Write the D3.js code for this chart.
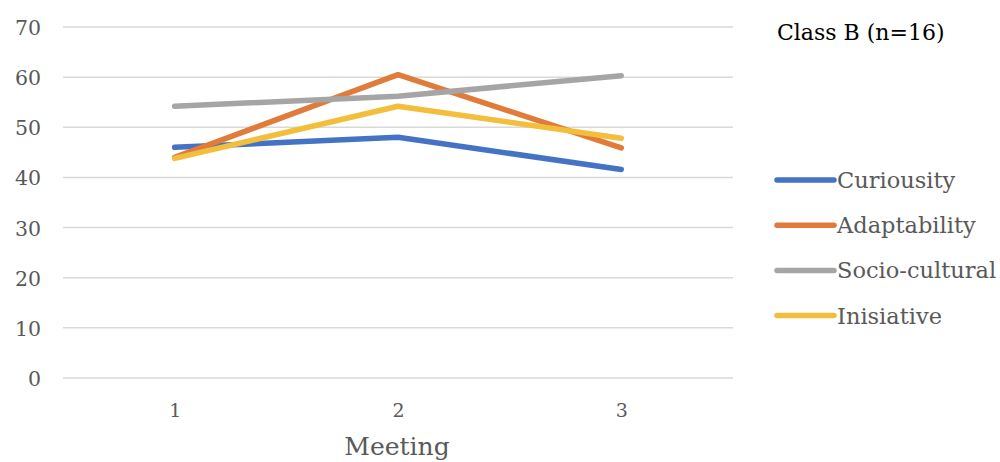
<!DOCTYPE html>
<html><head><meta charset="utf-8">
<script src="https://cdn.jsdelivr.net/npm/d3@7"></script>
<style>body{margin:0;background:#fff}svg{display:block}</style>
</head><body><svg id="c" width="1000" height="462"></svg>
<script>
const meetings = ["1","2","3"];
const seriesNames = ["Curiousity","Adaptability","Socio-cultural","Inisiative"];
const curiousity = [46, 48, 41.6];
const adaptability = [44, 60.5, 45.9];
const socioCultural = [54.2, 56.2, 60.3];
const inisiative = [43.8, 54.2, 47.8];
const yTicks = [0,10,20,30,40,50,60,70];
const colors = ["#4472C4","#E07B39","#A5A5A5","#F2BE3C"];
const seriesValues = [curiousity, adaptability, socioCultural, inisiative];

const svg = d3.select("#c");
const font = "'DejaVu Serif', Georgia, 'Liberation Serif', serif";
const x = d3.scalePoint().domain(meetings).range([174.7, 621.3]);
const y = d3.scaleLinear().domain([0,70]).range([378, 27]);

// gridlines
svg.append("g").selectAll("line").data(yTicks).join("line")
  .attr("x1",63).attr("x2",733).attr("y1",d=>y(d)).attr("y2",d=>y(d))
  .attr("stroke","#d9d9d9").attr("stroke-width",1.5);

// y labels
const yAxis = d3.axisLeft(y).tickValues(yTicks).tickSize(0).tickPadding(0);
const gy = svg.append("g").attr("transform","translate(41,1)").call(yAxis);
gy.select(".domain").remove();
gy.selectAll("text").attr("font-family",font).attr("font-size",20.5).attr("fill","#595959");

// x labels
const xAxis = d3.axisBottom(x).tickSize(0).tickPadding(0);
const gx = svg.append("g").attr("transform","translate(0,403)").call(xAxis);
gx.select(".domain").remove();
gx.selectAll("text").attr("font-family",font).attr("font-size",19).attr("fill","#595959");

svg.append("text").attr("x",397).attr("y",455).attr("text-anchor","middle")
  .attr("font-family",font).attr("font-size",25).attr("fill","#595959").text("Meeting");

// lines
const line = d3.line().x((d,i)=>x(meetings[i])).y(d=>y(d));
svg.append("g").selectAll("path").data(seriesValues).join("path")
  .attr("d",line).attr("fill","none").attr("stroke",(d,i)=>colors[i])
  .attr("stroke-width",5.5).attr("stroke-linecap","round").attr("stroke-linejoin","round");

// title
svg.append("text").attr("x",777).attr("y",40).attr("font-family",font)
  .attr("font-size",22).attr("fill","#000").text("Class B (n=16)");

// legend
const lg = svg.append("g").selectAll("g").data(seriesNames).join("g")
  .attr("transform",(d,i)=>`translate(0,${180 + i*45.2})`);
lg.append("line").attr("x1",777).attr("x2",834).attr("y1",0).attr("y2",0)
  .attr("stroke",(d,i)=>colors[i]).attr("stroke-width",5.5).attr("stroke-linecap","round");
lg.append("text").attr("x",837).attr("y",8).attr("font-family",font).attr("font-size",22.5)
  .attr("fill","#595959").text(d=>d);
</script></body></html>
